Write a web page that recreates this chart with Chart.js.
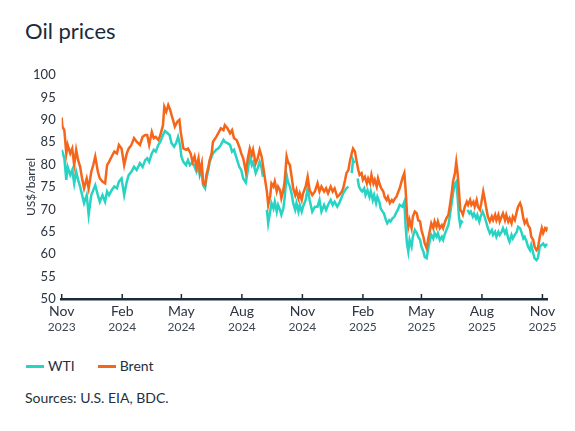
<!DOCTYPE html>
<html>
<head>
<meta charset="utf-8">
<title>Oil prices</title>
<script src="https://cdn.jsdelivr.net/npm/chart.js@4.4.1/dist/chart.umd.min.js"></script>
<style>
  body { margin: 0; background: #fff; font-family: Lato, "Open Sans", sans-serif; color: #1c2b39; }
  #page { position: relative; width: 575px; height: 431px; overflow: hidden; }
  h1 { position: absolute; left: 25px; top: 20px; margin: 0; font-size: 22px; font-weight: 400; line-height: 1; }
  #wrap { position: absolute; left: 0; top: 60px; width: 575px; height: 290px; }
  #legend { position: absolute; left: 26px; top: 358px; height: 16px; display: flex; align-items: center; font-size: 14px; line-height: 16px; color: #24303c; }
  #legend .item { display: flex; align-items: center; margin-right: 23px; }
  #legend .swatch { width: 18px; height: 3px; margin-right: 4px; }
  #source { position: absolute; left: 25px; top: 390px; font-size: 14px; line-height: 16px; color: #24303c; }
</style>
</head>
<body>
<div id="page">
  <h1>Oil prices</h1>
  <div id="wrap"><canvas id="oilChart"></canvas></div>
  <div id="legend"></div>
  <div id="source">Sources: U.S. EIA, BDC.</div>
</div>

<script>
// days counted from 1 Nov 2023
const tickDates = ['2023-11-01', '2024-02-01', '2024-05-01', '2024-08-01', '2024-11-01',
  '2025-02-01', '2025-05-01', '2025-08-01', '2025-11-01'];
const monthLabels = ['Nov', 'Feb', 'May', 'Aug', 'Nov', 'Feb', 'May', 'Aug', 'Nov'];
const yearLabels = ['2023', '2024', '2024', '2024', '2024', '2025', '2025', '2025', '2025'];

const brentDays = [
  0, 1, 4, 7, 9, 13, 16, 19, 22, 25, 28, 31, 34, 38, 41, 45, 48, 51, 55, 58, 62, 66, 69, 72, 76, 80, 84, 87, 91, 95, 99, 102, 106, 110, 114, 119, 123, 127,
  130, 133, 137, 140, 143, 147, 150, 154, 156, 159, 162, 165, 167, 170, 172, 176, 179, 181, 185, 189, 192, 196, 199, 202, 205, 208, 210, 213, 215, 218, 220, 223, 225, 228, 230, 235, 238, 242, 246, 248, 252, 256,
  259, 262, 266, 270, 273, 276, 280, 283, 286, 289, 291, 295, 298, 301, 304, 306, 309, 312, 314, 317, 319, 322, 324, 327, 329, 332, 334, 337, 339, 342, 344, 347, 350, 352, 355, 357, 360, 362, 365, 367, 371, 374, 377, 381, 385,
  389, 392, 395, 399, 402, 405, 409, 412, 415, 419, 422, 426, 428, 431, 433, 436, 438, 441, 443, 446, 448, 451, 453, 456, 458, 461, 464, 466, 469, 471, 474, 476, 479, 481, 484, 486, 489, 491, 494, 496, 499, 502, 504, 507, 509, 512, 514,
  518, 521, 523, 525, 527, 529, 532, 534, 537, 540, 542, 545, 547, 550, 552, 555, 557, 560, 562, 565, 567, 570, 572, 575, 578, 580, 583, 585, 588, 590, 593, 595, 598, 600, 602, 604, 606, 608, 610, 613, 616, 618, 621, 623, 626, 628, 631, 633, 636, 638, 641, 643,
  646, 648, 651, 654, 656, 659, 661, 664, 666, 669, 671, 674, 676, 679, 681, 684, 686, 689, 692, 694, 697, 699, 702, 704, 707, 709, 712, 714, 717, 719, 722, 724, 727, 730, 732, 735, 737, 739
];
const brentPrices = [
  90.5, 88.5, 87.7, 82.5, 84.4, 82.5, 83.6, 79.9, 83.3, 81, 79.5, 76.9, 74.7, 76.9, 74.7, 78.4, 79.9, 81.8, 78.4, 76.9, 76.2, 75.8, 79.9, 80.6, 81.8, 82.9, 82.5, 84.4, 83.6, 79.9, 82.5, 83.6, 84.4, 85.9, 85.1, 84.4, 86.2, 86.6,
  86.6, 84.4, 87.3, 85.9, 86.2, 85.5, 86.6, 88.8, 92.9, 91.8, 93.3, 92.2, 91.1, 89.6, 88.5, 89.6, 90, 87.3, 83.6, 83.3, 83.6, 82.5, 80.6, 81.8, 79.5, 81.4, 78.4, 80.3, 75.8, 75.4, 77.7, 79.5, 81, 82.5, 85.1, 86.2, 87, 88.1, 87.7, 88.8, 88.1, 87,
  87.7, 85.9, 85.5, 84, 82.5, 81.4, 78.4, 81.4, 83.6, 82.1, 83.3, 80.3, 81.4, 83.3, 81.8, 79.9, 76.9, 74, 71, 73, 75.8, 75.1, 76.2, 74, 75.1, 74.3, 72.5, 74.3, 76.2, 81.8, 80.6, 79.9, 76.9, 74.7, 73.2, 74.3, 72.5, 73.6, 72.1, 73.6, 75.1, 77.3, 74.3, 73.2, 74,
  75.8, 74, 75.1, 74, 74.7, 73.6, 75.1, 74, 74.7, 72.8, 73.2, 74, 74.7, 76.6, 78.1, 78.8, 80.6, 82.5, 83.6, 82.9, 81, 78.8, 77.7, 78.1, 76.6, 77.3, 75.8, 76.9, 75.8, 77.7, 75.8, 76.6, 75.1, 76.9, 75.4, 74.7, 74, 72.8, 72.1, 72.8, 71.4, 72.1, 71.7, 72.5, 72.8, 74, 74.7,
  76.9, 78.1, 74.3, 69.1, 66.1, 67.6, 65.8, 68.4, 69.5, 69.1, 67.6, 67.3, 65.4, 63.9, 62.4, 61.3, 63.2, 65.4, 66.9, 65.8, 67.3, 66.1, 67.3, 65.8, 66.5, 65.8, 67.3, 68, 68.8, 70.6, 73.6, 76.2, 78.1, 80.6, 78.1, 74.3, 69.9, 69.5, 68.8, 70.6, 71.7, 71, 72.1, 71, 71.7, 70.6, 72.1, 70.6, 69.9, 71.4, 74, 72.5,
  69.9, 68.4, 67.3, 68.4, 67.6, 68.8, 67.6, 68.8, 67.3, 68.4, 69.1, 67.6, 68.8, 67.3, 68, 66.9, 68.4, 67.6, 69.5, 70.6, 71.4, 70.6, 68, 66.9, 67.6, 66.5, 65.8, 63.9, 63.2, 61.7, 60.9, 61.3, 63.9, 65.8, 64.7, 65.8, 65.4, 66.1
];

const wtiDays = [
  0, 1, 4, 7, 9, 13, 16, 19, 22, 25, 28, 31, 34, 38, 41, 45, 48, 51, 55, 58, 62, 66, 69, 72, 76, 80, 84, 87, 91, 95, 99, 102, 106, 110, 114, 119, 123, 127,
  130, 133, 137, 140, 143, 147, 150, 154, 157, 161, 164, 167, 171, 174, 177, 180, 182, 185, 189, 192, 195, 199, 202, 205, 208, 210, 213, 215, 218, 220, 223, 225, 228, 230, 235, 238, 242, 246, 248, 252, 256,
  259, 262, 266, 270, 273, 276, 280, 283, 286, 289, 291, 295, 298, 301, 304, 306, 309, 312, 314, 317, 319, 322, 324, 327, 329, 332, 334, 337, 339, 342, 344, 347, 350, 352, 355, 357, 360, 362, 365, 367, 371, 374, 377, 381, 385,
  389, 392, 395, 399, 402, 405, 409, 412, 415, 419, 422, 426, 428, 431, 433, 436, 438, 441, 443, 445, 447, 450, 452, 455, 457, 460, 462, 465, 468, 470, 473, 475, 478, 480, 483, 485, 488, 490, 493, 495, 498, 500, 503, 506, 508, 511, 514,
  518, 521, 523, 525, 527, 529, 532, 534, 537, 540, 542, 545, 547, 550, 552, 555, 557, 560, 562, 565, 567, 570, 572, 575, 578, 580, 583, 585, 588, 590, 593, 595, 598, 600, 602, 604, 606, 608, 610, 614, 617, 620, 622, 625, 627, 630, 632, 635, 637, 640, 643,
  646, 648, 651, 654, 656, 659, 661, 664, 666, 669, 671, 674, 676, 679, 681, 684, 686, 689, 692, 694, 697, 699, 702, 704, 707, 709, 712, 714, 717, 719, 722, 724, 727, 730, 732, 735, 737, 739
];
// null = no quote that day (gap in the line)
const wtiPrices = [
  83.3, 82.9, 81.4, 76.6, 79.5, 77.7, 78.8, 75.8, 78.4, 76.6, 75.1, 73.2, 71.4, 73.2, 68.8, 73.2, 74.3, 75.4, 73.2, 71.7, 73.2, 71.7, 74, 73.2, 74.3, 75.1, 74.7, 76.2, 76.9, 73.2, 76.2, 77.7, 78.4, 79.5, 78.8, 80.3, 79.5, 81,
  81.4, 80.6, 82.5, 83.3, 82.9, 84.4, 85.1, 86.6, 87.5, 87, 86.6, 84.8, 84, 84.8, 86.2, 84.4, 81.8, 80.6, 79.9, 81, 79.9, 80.6, 79.5, 78.4, 79.9, 77.7, 79.2, 75.4, 74.7, 76.9, 78.8, 80.6, 81.8, 82.5, 83.3, 83.6, 84.4, 85.5, 85.1, 84.8, 84.4,
  82.9, 83.3, 81.4, 79.5, 78.8, 76.9, 76, 78.8, 81.8, 79.9, 80.6, 78.1, 79.2, 80.6, 79.2, 77.3, null, 69.9, 66.9, 69.5, 71.4, 70.2, 71.7, 69.5, 71, 69.9, 68.8, 70.2, 72.5, 77.7, 76.2, 75.1, 73.2, 71.4, 69.9, 71.4, 69.5, 71, 69.5, 70.6, 72.1, 74.7, 72.1, 69.5, 70.6,
  70.6, 72.1, 69.5, 71, 69.9, 71, 72.1, 71, 71.7, 70.6, 71.4, 72.8, 73.6, 74.3, 74.7, 75.1, null, 78.1, 81, 80.3, null, 76.9, 75.1, 74.3, 74, 74.7, 73.2, 74.3, 72.8, 74, 72.1, 73.2, 71.4, 72.8, 71.7, 70.2, 69.5, 69.1, 67.6, 66.9, 67.6, 67.3, 68, 68.4, 69.1, 69.9, 71,
  70.6, 71.7, 66.1, 62.4, 60.6, 63.2, 61.7, 63.9, 65.4, 64.7, 63.9, 63.2, 61.7, 60.6, 59.4, 59.1, 60.9, 63.2, 64.3, 63.5, 64.7, 63.9, 64.7, 63.2, 63.9, 63.2, 64.7, 65.4, 66.5, 68.4, 71.4, 73.6, 75.8, 76.2, 72.8, 68.4, 66.5, 67.3, 67, null, 69.9, 69.1, 69.5, 68.4, 69.1, 68, 68.8, 67.3, 68.4, 69.5, 68.4,
  66.9, 65.8, 64.7, 65.4, 64.3, 65, 63.9, 65, 64.3, 65, 65.8, 64.7, 65.4, 63.5, 62.8, 64.3, 63.5, 64.3, 65, 66.1, 65.8, 65, 63.5, 63.9, 62.8, 61.7, 60.9, 62.1, 60.2, 59.1, 58.7, 59.1, 61.7, 62.1, 62.4, 61.7, 62.1, 62.1
];

const wtiColor = '#27d3c3';
const brentColor = '#f5661a';
const axisColor = '#1c2b39';
const labelColor = '#2b3440';
const fontFamily = 'Lato, "Open Sans", sans-serif';

const startDate = Date.parse('2023-11-01');
const tickDays = tickDates.map(d => Math.round((Date.parse(d) - startDate) / 864e5));

function toPoints(days, prices) {
  return days.map((d, i) => ({ x: d, y: prices[i] }));
}

// small tick marks pointing up from the x axis line
const upTicks = {
  id: 'upTicks',
  afterDatasetsDraw(chart) {
    const { ctx, chartArea, scales } = chart;
    ctx.save();
    ctx.strokeStyle = axisColor;
    ctx.lineWidth = 1.5;
    scales.x.ticks.forEach(t => {
      const px = scales.x.getPixelForValue(t.value);
      ctx.beginPath();
      ctx.moveTo(px, chartArea.bottom);
      ctx.lineTo(px, chartArea.bottom - 5);
      ctx.stroke();
    });
    ctx.restore();
  }
};

function setTicks(scale) {
  scale.ticks = tickDays.map(v => ({ value: v }));
}

const ctx = document.getElementById('oilChart').getContext('2d');
const chart = new Chart(ctx, {
  type: 'line',
  data: {
    datasets: [
      { label: 'WTI', data: toPoints(wtiDays, wtiPrices), borderColor: wtiColor, backgroundColor: wtiColor, order: 1 },
      { label: 'Brent', data: toPoints(brentDays, brentPrices), borderColor: brentColor, backgroundColor: brentColor, order: 0 }
    ]
  },
  options: {
    animation: false,
    responsive: true,
    maintainAspectRatio: false,
    events: [],
    spanGaps: false,
    elements: {
      line: { borderWidth: 2.5, tension: 0, fill: false },
      point: { radius: 0 }
    },
    layout: { padding: { left: 3, right: 27.3, top: 15, bottom: 14 } },
    scales: {
      x: {
        type: 'linear',
        min: 0,
        max: 739,
        afterBuildTicks: setTicks,
        afterFit: s => { s.height = 21; },
        grid: { display: true, drawOnChartArea: false, drawTicks: false },
        border: { display: true, color: axisColor, width: 2.5 },
        ticks: {
          autoSkip: false, maxRotation: 0, padding: 4.5,
          color: labelColor, font: { family: fontFamily, size: 14 },
          callback: (v, i) => monthLabels[i]
        }
      },
      x2: {
        type: 'linear',
        position: 'bottom',
        min: 0,
        max: 739,
        afterBuildTicks: setTicks,
        afterFit: s => { s.height = 16; },
        grid: { display: false, drawTicks: false },
        border: { display: false },
        ticks: {
          autoSkip: false, maxRotation: 0, padding: 0,
          color: '#3d4753', font: { family: fontFamily, size: 12 },
          callback: (v, i) => yearLabels[i]
        }
      },
      y: {
        min: 50,
        max: 100,
        afterFit: s => { s.width = 58.7; },
        grid: { display: false, drawTicks: false },
        border: { display: false },
        ticks: { stepSize: 5, padding: 6, color: labelColor, font: { family: fontFamily, size: 13 } },
        title: {
          display: true, text: 'US$/barrel', color: labelColor,
          font: { family: fontFamily, size: 12 }, padding: { top: 21, bottom: 0 }
        }
      }
    },
    plugins: {
      legend: { display: false },
      tooltip: { enabled: false }
    }
  },
  plugins: [upTicks]
});

// html legend, in the same order as the reference
const legendBox = document.getElementById('legend');
[['WTI', wtiColor], ['Brent', brentColor]].forEach(([name, color]) => {
  const item = document.createElement('div');
  item.className = 'item';
  item.innerHTML = `<span class="swatch" style="background:${color}"></span><span>${name}</span>`;
  legendBox.appendChild(item);
});
</script>
</body>
</html>
